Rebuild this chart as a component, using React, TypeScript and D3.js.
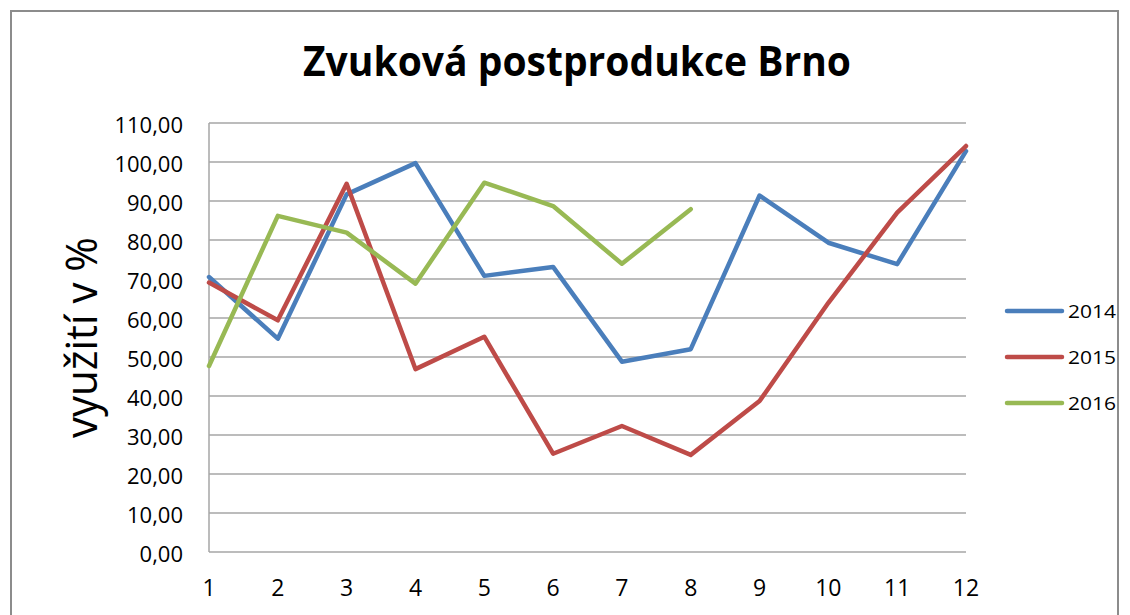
import React from "react";
import * as d3 from "d3";

const months = [1, 2, 3, 4, 5, 6, 7, 8, 9, 10, 11, 12];
const values2014 = [70.5, 54.7, 91.7, 99.7, 70.8, 73.1, 48.8, 52.0, 91.4, 79.3, 73.8, 102.8];
const values2015 = [69.1, 59.4, 94.4, 46.9, 55.2, 25.2, 32.3, 24.9, 38.7, 63.9, 87.0, 104.1];
const values2016 = [47.7, 86.2, 81.9, 68.8, 94.7, 88.7, 73.9, 87.9];
const yTicks = [0, 10, 20, 30, 40, 50, 60, 70, 80, 90, 100, 110];

const seriesList = [
  { name: "2014", values: values2014, color: "#4a7ebb" },
  { name: "2015", values: values2015, color: "#be4b48" },
  { name: "2016", values: values2016, color: "#98b954" },
];

const width = 1130;
const height = 615;
const plot = { left: 209, right: 966, top: 123, bottom: 552 };
const fontFamily = "'Open Sans', 'Noto Sans', sans-serif";

const App: React.FC = () => {
  const x = d3.scaleLinear().domain([1, 12]).range([plot.left, plot.right]);
  const y = d3.scaleLinear().domain([0, 110]).range([plot.bottom, plot.top]);
  const fmt = (v: number) => d3.format(".2f")(v).replace(".", ",");

  const line = d3
    .line<number>()
    .x((_, i) => x(months[i]))
    .y((d) => y(d));

  return (
    <svg
      width={width}
      height={height}
      style={{ position: "absolute", left: 0, top: 0, background: "#fff" }}
    >
      {/* chart frame */}
      <rect x={11} y={11} width={1107} height={620} fill="#fff" stroke="#8c8c8c" strokeWidth={2} />

      <text
        x={303}
        y={76}
        textLength={548}
        lengthAdjust="spacingAndGlyphs"
        fontFamily={fontFamily}
        fontWeight="bold"
        fontSize={42}
        fill="#000"
      >
        Zvuková postprodukce Brno
      </text>

      {/* gridlines */}
      {yTicks.map((t) => (
        <line
          key={t}
          x1={plot.left}
          x2={plot.right}
          y1={y(t)}
          y2={y(t)}
          stroke="#a6a6a6"
          strokeWidth={1.5}
        />
      ))}
      <line x1={plot.left} x2={plot.left} y1={plot.top} y2={plot.bottom} stroke="#a6a6a6" strokeWidth={1.5} />

      {/* y tick labels */}
      {yTicks.map((t) => (
        <text
          key={t}
          x={183}
          y={y(t) + 2}
          dy="0.35em"
          textAnchor="end"
          fontFamily={fontFamily}
          fontSize={22}
          fill="#000"
        >
          {fmt(t)}
        </text>
      ))}

      {/* x tick labels */}
      {months.map((m) => (
        <text
          key={m}
          x={x(m)}
          y={588}
          dy="0.35em"
          textAnchor="middle"
          fontFamily={fontFamily}
          fontSize={23}
          fill="#000"
        >
          {m}
        </text>
      ))}

      <text
        transform="translate(97, 438) rotate(-90)"
        textLength={201}
        lengthAdjust="spacingAndGlyphs"
        fontFamily={fontFamily}
        fontSize={44}
        fill="#000"
      >
        využití v %
      </text>

      {seriesList.map((s) => (
        <path
          key={s.name}
          d={line(s.values) || ""}
          fill="none"
          stroke={s.color}
          strokeWidth={4.5}
          strokeLinejoin="round"
          strokeLinecap="round"
        />
      ))}

      {/* legend */}
      {seriesList.map((s, i) => (
        <g key={s.name} transform={`translate(1007, ${311 + i * 46})`}>
          <line x1={0} x2={55} y1={0} y2={0} stroke={s.color} strokeWidth={4.5} strokeLinecap="round" />
          <text
            x={61}
            y={0}
            dy="0.35em"
            textLength={48}
            lengthAdjust="spacingAndGlyphs"
            fontFamily={fontFamily}
            fontSize={19}
            fill="#000"
          >
            {s.name}
          </text>
        </g>
      ))}
    </svg>
  );
};

export default App;
